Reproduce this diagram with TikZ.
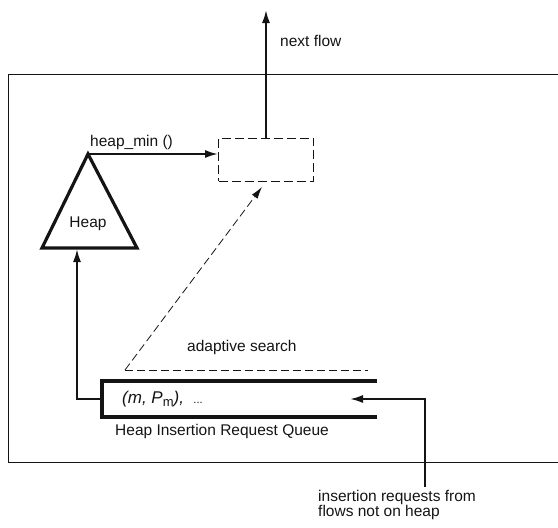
\documentclass[tikz,border=0pt]{standalone}
\usepackage{fontspec}
\setmainfont{Liberation Sans}
\usepackage{tikz}
\usetikzlibrary{arrows.meta,positioning,calc}
\definecolor{ink}{RGB}{20,20,20}

\begin{document}
\begin{tikzpicture}[x=1pt,y=-1pt,
    lbl/.style={font=\fontsize{15.5}{15.5}\selectfont, text=ink, inner sep=0pt},
    flow/.style={draw=ink, line width=2pt, -{Latex[length=13pt,width=8pt]}},
    heavy/.style={draw=ink, line width=3.2pt, line join=miter},
    search/.style={draw=ink, line width=0.8pt, dash pattern=on 8pt off 4pt}]
    \useasboundingbox (0,0) rectangle (558,528);

    % system frame, open to the right
    \draw[ink, line width=1pt] (558,74) -- (8,74) -- (8,462) -- (558,462);

    % heap
    \coordinate (apex) at (88,154);
    \coordinate (bl) at (42,248);
    \coordinate (br) at (137,248);
    \draw[heavy] (apex) -- (bl) -- (br) -- cycle;
    \node[lbl] (heaplbl) at (88,224) {Heap};

    % selected flow slot
    \node[draw=ink, line width=0.9pt, dash pattern=on 9pt off 4pt,
          minimum width=95pt, minimum height=43pt, inner sep=0pt] (slot) at (266,159.5) {};
    \coordinate (top) at (266,10);
    \draw[flow] (slot.north) -- (top);
    \node[lbl, anchor=west] (next) at (280,41) {next flow};

    % heap_min
    \draw[flow] (apex) -- (apex -| slot.west);
    \node[lbl, anchor=west] (hmin) at (90,142) {heap\_min ()};

    % insertion request queue
    \coordinate (qtl) at (102,381);
    \coordinate (qtr) at (377,381);
    \coordinate (qbl) at (102,417);
    \coordinate (qbr) at (377,417);
    \draw[heavy] (qtr) -- (qtl) -- (qbl) -- (qbr);
    \node[lbl, anchor=west, font=\fontsize{17}{17}\selectfont] (qtext) at (122,399)
        {\itshape (m, P\raisebox{-0.35ex}{\upshape\fontsize{13}{13}\selectfont m}),\upshape\ \ \fontsize{11}{11}\selectfont ...};
    \node[lbl, anchor=west] (qname) at (115,431) {Heap Insertion Request Queue};

    % queue head into heap
    \coordinate (qin) at (102,399);
    \coordinate (hbase) at (77,249);
    \draw[flow] (qin) -| (hbase);

    % adaptive search
    \coordinate (sl) at (125,370);
    \coordinate (sr) at (368,370);
    \coordinate (stip) at (262,187);
    \draw[search] (sl) -- (sr);
    \draw[search, -{Latex[length=12pt,width=7pt]}] (sl) -- (stip);
    \node[lbl, anchor=west] (adapt) at (187,347) {adaptive search};

    % requests from outside
    \node[lbl, anchor=north west, align=left] (insreq) at (318,490)
        {insertion requests from\\flows not on heap};
    \coordinate (src) at (425,487);
    \coordinate (qend) at (350,399);
    \draw[flow] (src) |- (qend);
\end{tikzpicture}
\end{document}
